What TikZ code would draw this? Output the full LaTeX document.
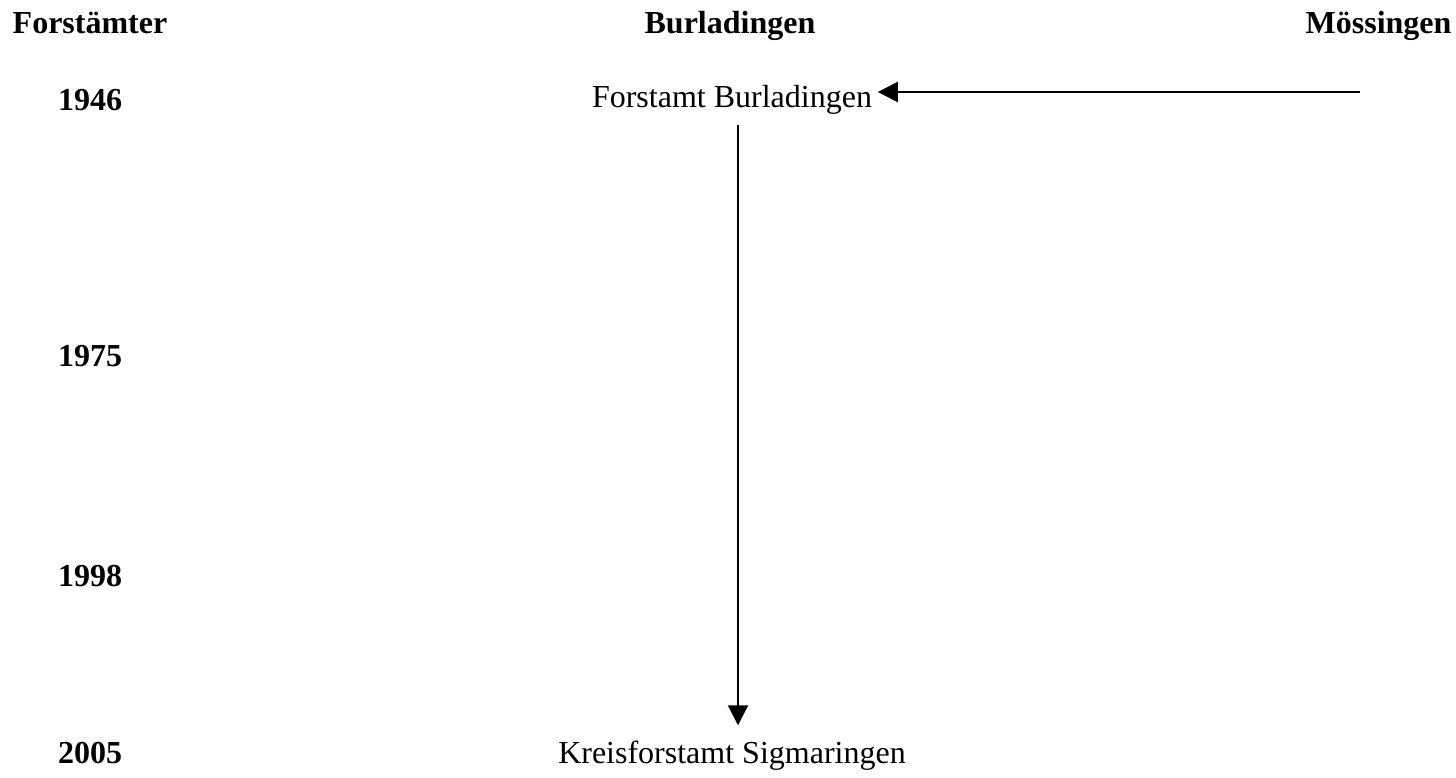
\documentclass[tikz,border=0pt]{standalone}
\usepackage{fontspec}
\setmainfont{Liberation Serif}
\usepackage{tikz}
\usetikzlibrary{positioning, arrows.meta, calc}

\begin{document}
\begin{tikzpicture}[
    x=0.375pt, y=-0.375pt,
    head/.style={font=\fontsize{12}{14}\selectfont\bfseries, inner sep=0pt, anchor=base},
    year/.style={font=\fontsize{12}{14}\selectfont\bfseries, inner sep=0pt, anchor=base},
    office/.style={font=\fontsize{12}{14}\selectfont, inner sep=2pt, anchor=base},
    link/.style={thick, -{Triangle[length=7.5pt, width=7.5pt]}}
]
\useasboundingbox (0,0) rectangle (1456,777);

% Kopfzeile
\node[head] (forst) at (90,33) {Forstämter};
\node[head] (burl) at (730,33) {Burladingen};
\node[head, anchor=base east] (moess) at (1452,33) {Mössingen};

% Jahre
\node[year] (y46) at (90,110) {1946};
\node[year] (y75) at (90,366) {1975};
\node[year] (y98) at (90,586) {1998};
\node[year] (y05) at (90,763) {2005};

% Forstaemter
\node[office] (fbur) at (732,107) {Forstamt Burladingen};
\node[office] (ksig) at (732,763) {Kreisforstamt Sigmaringen};
\coordinate (mstart) at (1360,92);

% Kanten
\draw[link] (mstart) -- (mstart -| fbur.east);
\draw[link] ([xshift=6*0.375pt, yshift=-2pt]fbur.south) -- ([xshift=6*0.375pt, yshift=3.5pt]ksig.north);

\end{tikzpicture}
\end{document}
